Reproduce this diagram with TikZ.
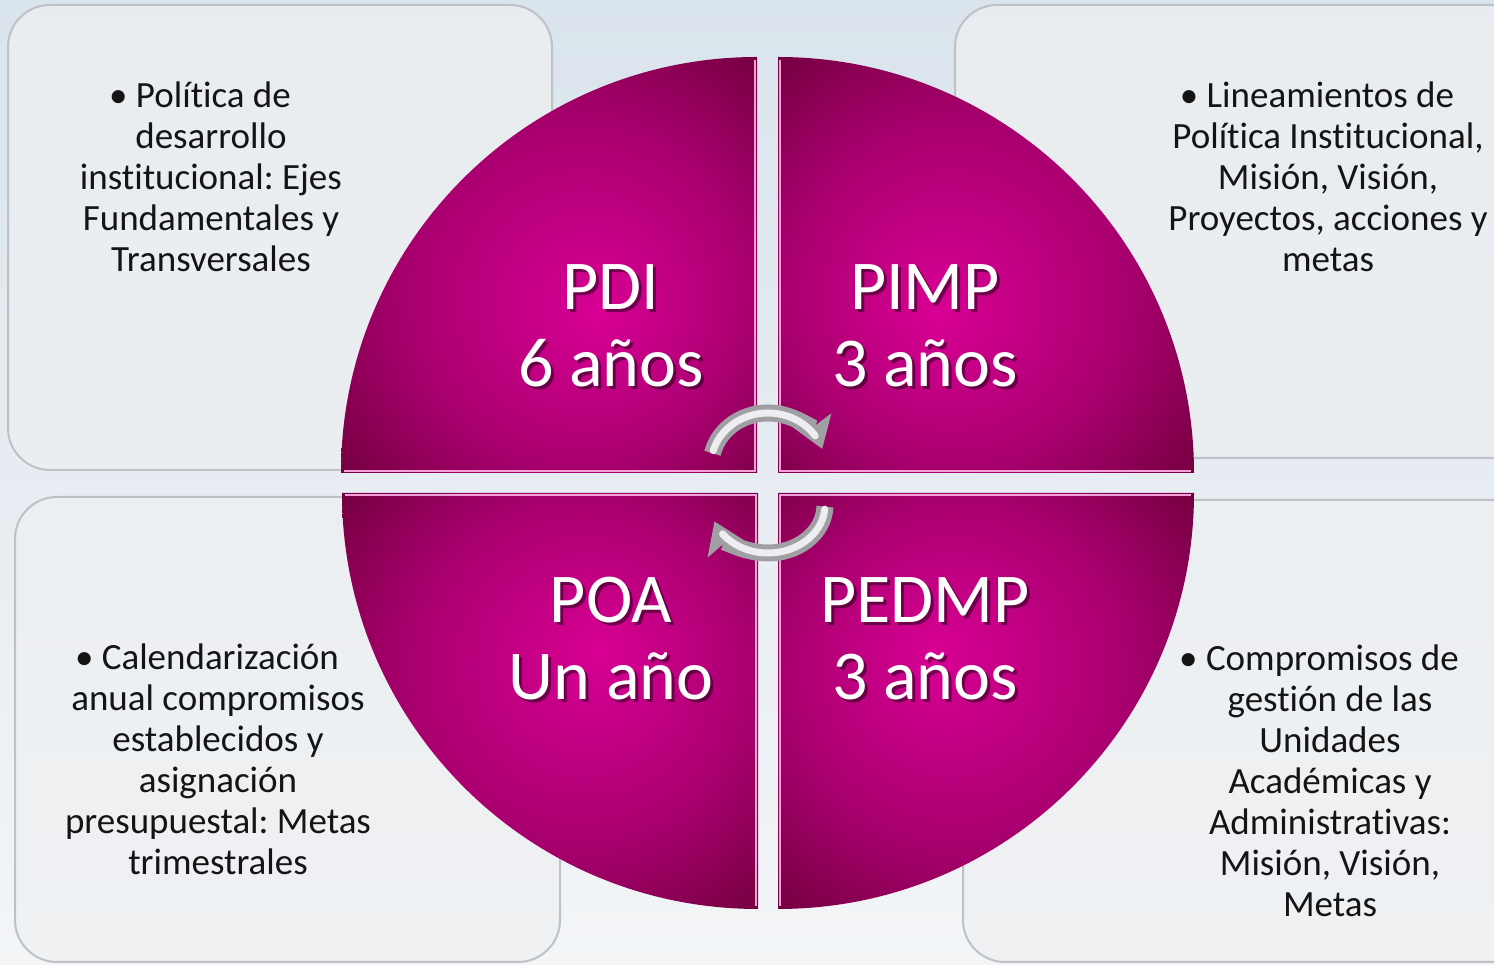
\documentclass[tikz,border=0pt]{standalone}
\usepackage{fontspec}
\setmainfont{Carlito}[Ligatures=NoCommon]
\newcommand{\tiA}{t\kern0pt i}
\usetikzlibrary{arrows.meta}
\definecolor{qbright}{RGB}{216,0,148}
\definecolor{qmid}{RGB}{170,0,112}
\definecolor{qdark}{RGB}{108,0,56}
\definecolor{bgtop}{RGB}{218,228,236}
\definecolor{bgbot}{RGB}{243,245,247}
\definecolor{boxfill}{RGB}{238,240,242}
\definecolor{boxline}{RGB}{190,194,198}
\definecolor{silverdark}{RGB}{160,160,164}
\definecolor{silverlight}{RGB}{238,238,240}
\definecolor{bevel}{RGB}{242,160,215}
\pgfdeclareradialshading{quadTL}{\pgfpoint{6bp}{-6bp}}{color(0bp)=(qbright); color(20bp)=(qmid); color(38bp)=(qdark); color(50bp)=(qdark)}
\pgfdeclareradialshading{quadTR}{\pgfpoint{-6bp}{-6bp}}{color(0bp)=(qbright); color(20bp)=(qmid); color(38bp)=(qdark); color(50bp)=(qdark)}
\pgfdeclareradialshading{quadBL}{\pgfpoint{6bp}{6bp}}{color(0bp)=(qbright); color(20bp)=(qmid); color(38bp)=(qdark); color(50bp)=(qdark)}
\pgfdeclareradialshading{quadBR}{\pgfpoint{-6bp}{6bp}}{color(0bp)=(qbright); color(20bp)=(qmid); color(38bp)=(qdark); color(50bp)=(qdark)}
\tikzset{
  infobox/.style={rounded corners=42pt, fill=boxfill, fill opacity=0.75, draw=boxline, line width=2pt},
  boxtext/.style={align=center, font=\fontsize{37}{41}\selectfont\frenchspacing, text=black!92, inner sep=0pt, anchor=base},
  quadtext/.style={align=center, font=\fontsize{70}{77}\selectfont, text=white, inner sep=0pt, anchor=base},
  quadshadow/.style={align=center, font=\fontsize{70}{77}\selectfont, text=black, text opacity=0.45, inner sep=0pt, anchor=base},
  bevelline/.style={draw=bevel, line width=2pt},
  silver/.style={line width=17pt, draw=silverdark, -{Stealth[length=30pt, width=40pt, inset=6pt]}},
  silvershine/.style={line width=7pt, draw=silverlight, line cap=round}
}
\begin{document}
\begin{tikzpicture}[x=1pt, y=1pt]
\useasboundingbox (0,0) rectangle (1494,965);
\clip (0,0) rectangle (1494,965);
\shade[top color=bgtop, bottom color=bgbot] (0,0) rectangle (1494,965);
% boxes
\path[infobox] (8,495) rectangle (552,960);
\path[infobox] (955,507) rectangle (1540,960);
\path[infobox] (15,3) rectangle (560,468);
\path[infobox] (963,3) rectangle (1540,465);
% quadrants
\shade[shading=quadTL] (757,492) -- (341,492) arc[start angle=180, end angle=90, radius=416] -- cycle;
\shade[shading=quadTR] (778,492) -- (778,908) arc[start angle=90, end angle=0, radius=416] -- cycle;
\shade[shading=quadBL] (758,472) -- (342,472) arc[start angle=180, end angle=270, radius=416] -- cycle;
\shade[shading=quadBR] (778,472) -- (1194,472) arc[start angle=0, end angle=-90, radius=416] -- cycle;
% bevel highlights
\draw[bevelline] (344,494) -- (755,494) -- (755,905);
\draw[bevelline] (780,905) -- (780,494) -- (1191,494);
\draw[bevelline] (345,470) -- (756,470) -- (756,59);
\draw[bevelline] (780,59) -- (780,470) -- (1191,470);
% box texts
\node[boxtext] (t1) at (211,693) {\textbullet\ Polí\tiA ca de\hspace*{22pt}\\desarrollo\\ins\tiA tucional: Ejes\\Fundamentales y\\Transversales};
\node[boxtext] (t2) at (1328,693) {\textbullet\ Lineamientos de\hspace*{22pt}\\Polí\tiA ca Ins\tiA tucional,\\Misión, Visión,\\Proyectos, acciones y\\metas};
\node[boxtext] (t3) at (218,90) {\textbullet\ Calendarización\hspace*{22pt}\\anual compromisos\\establecidos y\\asignación\\presupuestal: Metas\\trimestrales};
\node[boxtext] (t4) at (1330,48) {\textbullet\ Compromisos de\hspace*{22pt}\\ges\tiA ón de las\\Unidades\\Académicas y\\Administra\tiA vas:\\Misión, Visión,\\Metas};
% quadrant labels
\node[quadshadow] at (614,575) {PDI\\6 años};
\node[quadtext] (pdi) at (611,578) {PDI\\6 años};
\node[quadshadow] at (928,575) {PIMP\\3 años};
\node[quadtext] (pimp) at (925,578) {PIMP\\3 años};
\node[quadshadow] at (614,262) {POA\\Un año};
\node[quadtext] (poa) at (611,265) {POA\\Un año};
\node[quadshadow] at (928,262) {PEDMP\\3 años};
\node[quadtext] (pedmp) at (925,265) {PEDMP\\3 años};
% cycle arrows
\coordinate (ctop) at (768,500);
\coordinate (cbot) at (768,460);
\draw[silver] ([shift={(ctop)}]167:57 and 52) arc[start angle=167, end angle=18, x radius=57, y radius=52];
\draw[silvershine] ([shift={(ctop)}]164:57 and 52) arc[start angle=164, end angle=34, x radius=57, y radius=52];
\draw[silver] ([shift={(cbot)}]-2:57 and 48) arc[start angle=-2, end angle=-160, x radius=57, y radius=48];
\draw[silvershine] ([shift={(cbot)}]-5:57 and 48) arc[start angle=-5, end angle=-143, x radius=57, y radius=48];
\end{tikzpicture}
\end{document}
